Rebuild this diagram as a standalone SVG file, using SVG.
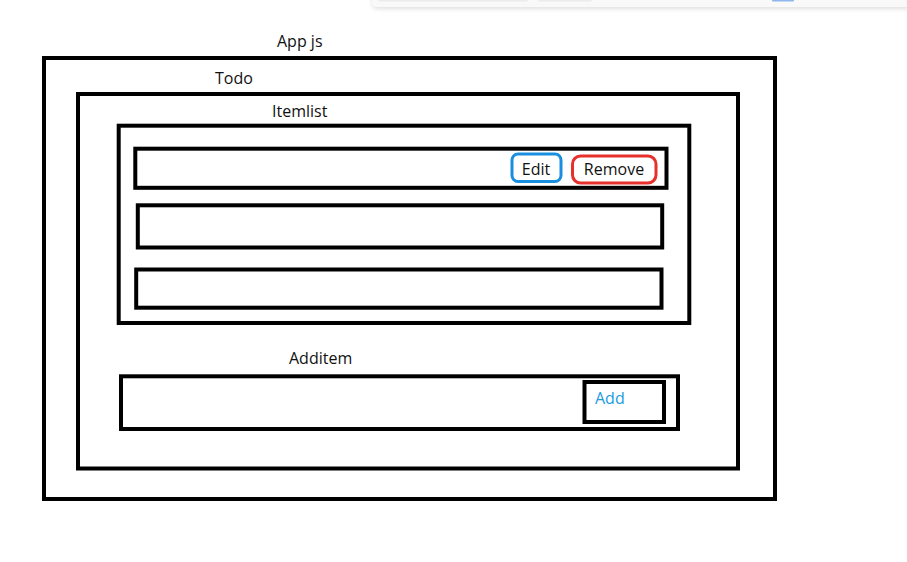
<svg xmlns="http://www.w3.org/2000/svg" width="907" height="562" viewBox="0 0 907 562">
  <defs>
    <filter id="shadow" x="-5%" y="-50%" width="110%" height="300%">
      <feDropShadow dx="0" dy="2" stdDeviation="2" flood-color="#000" flood-opacity="0.12"/>
    </filter>
  </defs>
  <style>
    .box { fill: none; stroke: #000; stroke-width: 4; }
    .lbl { font-family: "Open Sans", "Noto Sans", sans-serif; font-size: 16px; fill: #111; }
    .btn-edit { fill: none; stroke: #1a8fe0; stroke-width: 3; }
    .btn-remove { fill: none; stroke: #e8302a; stroke-width: 3; }
  </style>
  <rect width="907" height="562" fill="#fff"/>

  <g id="toolbar">
    <rect x="372" y="-10" width="545" height="17" rx="5" fill="#f9f9f9" filter="url(#shadow)"/>
    <rect x="378" y="-4" width="150" height="5.5" rx="2" fill="#ececec"/>
    <rect x="538" y="-4" width="54" height="5.5" rx="2" fill="#ececec"/>
    <rect x="772" y="-4" width="22" height="5.5" rx="1" fill="#8fb6ee"/>
  </g>

  <g id="app">
    <text class="lbl" x="277" y="47">App js</text>
    <rect class="box" x="44" y="58" width="731" height="441"/>
  </g>

  <g id="todo">
    <text class="lbl" x="215" y="84">Todo</text>
    <rect class="box" x="78" y="94" width="660" height="374.5"/>
  </g>

  <g id="itemlist">
    <text class="lbl" x="272" y="117">Itemlist</text>
    <rect class="box" x="118.7" y="125.7" width="570.6" height="197.3"/>
  </g>

  <g id="item1">
    <rect class="box" x="135.3" y="148.7" width="531.2" height="39.1"/>
  </g>
  <g id="edit-button">
    <rect class="btn-edit" x="512" y="154" width="49" height="27.5" rx="6"/>
    <text class="lbl" x="536" y="175" text-anchor="middle">Edit</text>
  </g>
  <g id="remove-button">
    <rect class="btn-remove" x="572.5" y="156" width="83.5" height="27" rx="8"/>
    <text class="lbl" x="614" y="175" text-anchor="middle">Remove</text>
  </g>

  <g id="item2">
    <rect class="box" x="137.8" y="205.3" width="524.4" height="42.2"/>
  </g>

  <g id="item3">
    <rect class="box" x="136.2" y="269.5" width="525.3" height="38.2"/>
  </g>

  <g id="additem">
    <text class="lbl" x="289" y="364">Additem</text>
    <rect class="box" x="121" y="376.3" width="557" height="52.7"/>
  </g>

  <g id="add-button">
    <rect class="box" x="584.5" y="382" width="79.5" height="40"/>
    <text class="lbl" x="595" y="403.5" style="fill:#1a9be0">Add</text>
  </g>
</svg>
